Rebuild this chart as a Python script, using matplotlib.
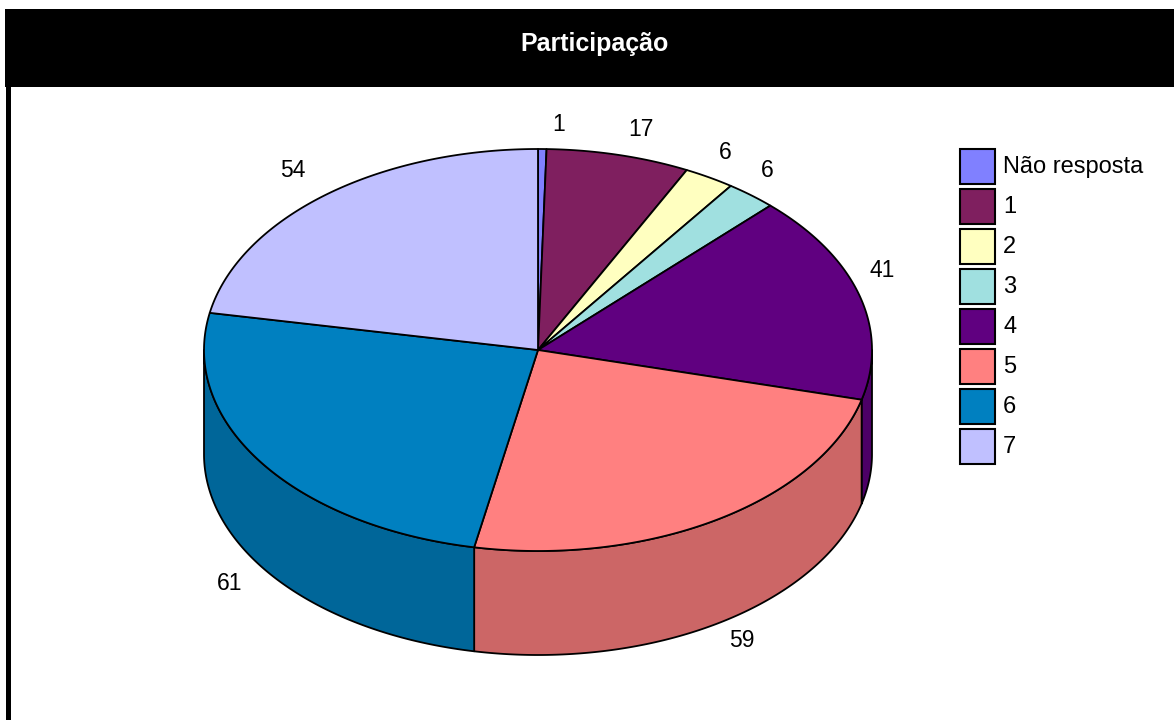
import numpy as np
import matplotlib
matplotlib.use("Agg")
import matplotlib.pyplot as plt
from matplotlib.patches import Polygon, Rectangle

plt.rcParams['font.family'] = ['Liberation Sans', 'DejaVu Sans']

title = "Participação"
categories = ["Não resposta", "1", "2", "3", "4", "5", "6", "7"]
values = [1, 17, 6, 6, 41, 59, 61, 54]
top_colors = ["#8080FF", "#7F1F5F", "#FFFFC0", "#A0E0E0", "#600080", "#FF8080", "#0080C0", "#C0C0FF"]
side_colors = ["#6666CC", "#66194C", "#CCCC99", "#80B3B3", "#4C0066", "#CC6666", "#006699", "#9999CC"]

W, H = 1174, 720
fig = plt.figure(figsize=(W / 100, H / 100), dpi=100)
ax = fig.add_axes([0, 0, 1, 1])
ax.set_xlim(0, W)
ax.set_ylim(H, 0)
ax.axis('off')

# frame: title bar and left border
ax.add_patch(Rectangle((5, 9), W - 5, 78, facecolor='black', edgecolor='none', zorder=1))
ax.add_patch(Rectangle((6, 87), 5, H - 87, facecolor='black', edgecolor='none', zorder=1))
ax.text(595, 44, title, color='white', fontsize=18, fontweight='bold', ha='center', va='center', zorder=2)

# pie geometry
cx, cy, rx, ry, depth = 538, 350, 334, 201, 104
lw = 1.3

total = float(sum(values))
angles = np.concatenate([[0], np.cumsum(values) / total * 360.0])

def pt(t, dy=0.0):
    r = np.radians(t)
    return cx + rx * np.sin(r), cy - ry * np.cos(r) + dy

# side walls (front half: 90..270 deg)
for i, v in enumerate(values):
    a, b = angles[i], angles[i + 1]
    lo, hi = max(a, 90), min(b, 270)
    if hi <= lo:
        continue
    ts = np.linspace(lo, hi, 200)
    top = [pt(t) for t in ts]
    bot = [pt(t, depth) for t in ts[::-1]]
    ax.add_patch(Polygon(top + bot, closed=True, facecolor=side_colors[i],
                         edgecolor='black', linewidth=lw, joinstyle='round', zorder=3))

# top wedges
for i, v in enumerate(values):
    a, b = angles[i], angles[i + 1]
    ts = np.linspace(a, b, max(int((b - a) * 2), 4))
    verts = [(cx, cy)] + [pt(t) for t in ts]
    ax.add_patch(Polygon(verts, closed=True, facecolor=top_colors[i],
                         edgecolor='black', linewidth=lw, joinstyle='round', zorder=4))

# value labels
for i, v in enumerate(values):
    tm = (angles[i] + angles[i + 1]) / 2.0
    r = np.radians(tm)
    x, y = pt(tm)
    front = np.cos(r) < 0
    if front:
        y += depth + 17
    else:
        y -= 25
    if np.sin(r) >= 0:
        ha, x = 'left', x + (12 if front else 10)
    else:
        ha, x = 'right', x - 19
    ax.text(x, y, str(v), fontsize=16.5, ha=ha, va='center', color='black', zorder=5)

# legend
lx, ly0, bw, bh, pitch = 960, 149, 35, 35, 40
for i, cat in enumerate(categories):
    y = ly0 + i * pitch
    ax.add_patch(Rectangle((lx, y), bw, bh, facecolor=top_colors[i], edgecolor='black',
                           linewidth=1.5, zorder=4))
    ax.text(lx + bw + 8, y + bh / 2 + 0.5, cat, fontsize=17, ha='left', va='center',
            color='black', zorder=5)

fig.savefig("out.png", dpi=100, facecolor='white')
